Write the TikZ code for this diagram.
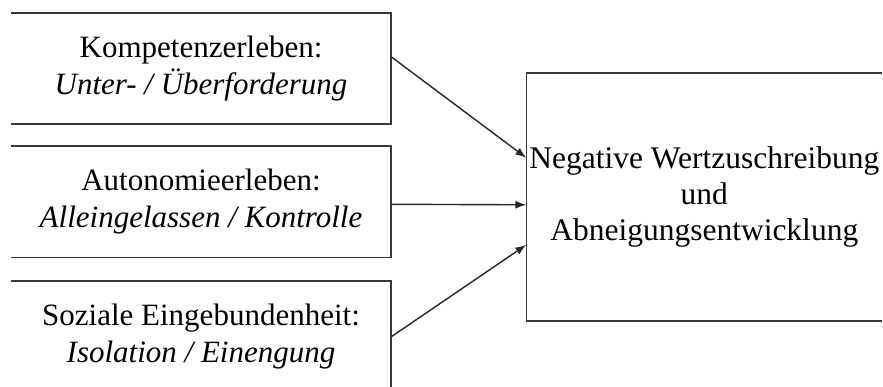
\documentclass[tikz,border=0pt]{standalone}
\usepackage{fontspec}
\setmainfont{Liberation Serif}
\usetikzlibrary{arrows.meta,calc}

\tikzset{
  frame/.style={line width=1.6pt, draw=black!78},
  cause/.style={minimum width=380pt, minimum height=111pt, inner sep=0pt,
    align=center, font=\fontsize{31}{37}\selectfont},
  effect/.style={minimum width=355.5pt, minimum height=247pt, inner sep=0pt,
    align=center, font=\fontsize{31.5}{36}\selectfont},
  link/.style={line width=1.4pt, draw=black!85,
    -{Latex[length=11pt,width=8pt]}}
}

\begin{document}
\begin{tikzpicture}[x=1pt,y=-1pt]
  \useasboundingbox (0,0) rectangle (883,387);
  \clip (0,0) rectangle (883,387);

  % three influencing factors
  \node[cause] (kom) at (201,68.5)
    {Kompetenzerleben:\\\textit{Unter- / Überforderung}};
  \node[cause] (aut) at (201,202)
    {Autonomieerleben:\\\textit{Alleingelassen / Kontrolle}};
  \node[cause] (soz) at (201,336.5)
    {Soziale Eingebundenheit:\\\textit{Isolation / Einengung}};

  % outcome
  \node[effect] (neg) at (704.25,197)
    {Negative Wertzuschreibung\\und\\Abneigungsentwicklung};

  % box outlines (open on the outer side)
  \foreach \n in {kom,aut,soz}
    \draw[frame] (\n.north west) -- (\n.north east) -- (\n.south east) -- (\n.south west);
  \draw[frame] (neg.north east) -- (neg.north west) -- (neg.south west) -- (neg.south east);

  % connectors
  \draw[link] ($(kom.north east)+(0,44)$) -- ($(neg.north west)+(0,84.5)$);
  \draw[link] ($(aut.north east)+(0,58)$) -- ($(neg.north west)+(0,131.5)$);
  \draw[link] ($(soz.north east)+(0,56)$) -- ($(neg.north west)+(0,171.5)$);
\end{tikzpicture}
\end{document}
